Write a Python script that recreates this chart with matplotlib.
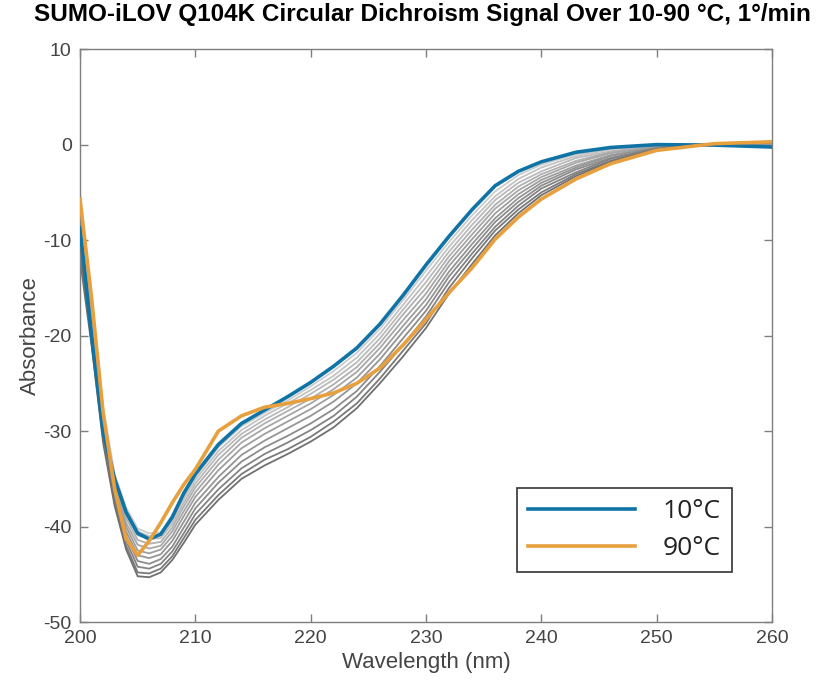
import matplotlib
matplotlib.use("Agg")
import matplotlib.pyplot as plt

wl = [200, 201, 202, 203, 204, 205, 206, 207, 208, 209, 210, 212, 214, 216, 218,
      220, 222, 224, 226, 228, 230, 232, 234, 236, 238, 240, 243, 246, 250, 255, 260]

cd_10 = [-8.7, -20.0, -30.0, -35.0, -38.5, -40.7, -41.3, -40.8, -39.0, -36.5, -34.5,
         -31.4, -29.2, -27.8, -26.4, -24.9, -23.2, -21.3, -18.8, -15.8, -12.6, -9.6,
         -6.8, -4.3, -2.8, -1.8, -0.8, -0.3, 0.0, -0.05, -0.25]

cd_90 = [-5.7, -16.0, -28.0, -36.0, -41.3, -43.0, -41.5, -39.6, -37.5, -35.6, -34.0,
         -30.0, -28.4, -27.5, -27.1, -26.6, -26.0, -25.0, -23.4, -21.0, -18.3, -15.5,
         -12.9, -9.9, -7.6, -5.7, -3.6, -2.0, -0.6, 0.1, 0.3]

# intermediate temperatures, lowest first (light grey -> dark grey)
cd_mid = [
    [-5.0, -16.0, -27.5, -34.5, -38.0, -40.2, -40.7, -40.6, -39.1, -36.8, -34.8, -31.7, -29.5, -28.1, -26.8,
     -25.3, -23.7, -21.8, -19.3, -16.3, -13.2, -10.2, -7.4, -4.9, -3.2, -2.1, -1.0, -0.4, 0.0, 0.0, -0.2],
    [-6.0, -16.5, -28.0, -34.8, -38.3, -40.5, -41.0, -40.9, -39.4, -37.1, -35.1, -32.1, -29.9, -28.4, -27.1,
     -25.7, -24.2, -22.3, -19.8, -16.8, -13.8, -10.7, -7.9, -5.4, -3.6, -2.4, -1.2, -0.5, -0.05, 0.0, -0.15],
    [-7.0, -17.0, -28.3, -35.1, -38.7, -40.9, -41.3, -41.2, -39.7, -37.5, -35.5, -32.5, -30.3, -28.8, -27.5,
     -26.1, -24.6, -22.8, -20.3, -17.3, -14.4, -11.2, -8.4, -5.8, -4.0, -2.8, -1.4, -0.7, -0.1, 0.0, -0.1],
    [-7.5, -17.5, -28.7, -35.4, -39.1, -41.4, -41.8, -41.6, -40.1, -37.9, -35.9, -33.0, -30.7, -29.2, -27.9,
     -26.6, -25.1, -23.3, -20.8, -17.8, -15.0, -11.7, -8.9, -6.3, -4.4, -3.1, -1.7, -0.8, -0.15, 0.0, -0.05],
    [-8.0, -18.0, -29.0, -35.7, -39.6, -41.9, -42.3, -42.0, -40.5, -38.4, -36.4, -33.5, -31.2, -29.7, -28.4,
     -27.1, -25.6, -23.8, -21.3, -18.4, -15.6, -12.2, -9.4, -6.7, -4.8, -3.4, -1.9, -0.9, -0.2, 0.05, 0.0],
    [-8.5, -18.5, -29.3, -36.0, -40.0, -42.5, -42.8, -42.4, -41.0, -38.9, -36.9, -34.1, -31.8, -30.3, -29.0,
     -27.7, -26.2, -24.4, -21.9, -19.0, -16.2, -12.7, -9.9, -7.2, -5.2, -3.7, -2.2, -1.1, -0.25, 0.05, 0.05],
    [-9.5, -19.0, -29.7, -36.3, -40.5, -43.0, -43.3, -42.9, -41.5, -39.5, -37.5, -34.8, -32.5, -31.0, -29.7,
     -28.4, -26.9, -25.0, -22.5, -19.6, -16.8, -13.3, -10.4, -7.7, -5.6, -4.0, -2.4, -1.2, -0.3, 0.05, 0.1],
    [-10.0, -19.5, -30.0, -36.6, -41.0, -43.6, -43.9, -43.4, -42.1, -40.1, -38.1, -35.4, -33.2, -31.7, -30.5,
     -29.2, -27.7, -25.8, -23.2, -20.3, -17.4, -13.8, -10.9, -8.1, -6.0, -4.3, -2.6, -1.4, -0.35, 0.1, 0.15],
    [-10.5, -20.0, -30.4, -37.0, -41.5, -44.2, -44.4, -43.9, -42.6, -40.7, -38.7, -36.1, -33.9, -32.4, -31.2,
     -29.9, -28.4, -26.4, -23.8, -21.0, -18.0, -14.4, -11.4, -8.6, -6.4, -4.6, -2.9, -1.5, -0.4, 0.1, 0.2],
    [-11.0, -20.5, -30.8, -37.4, -42.0, -44.8, -44.9, -44.4, -43.1, -41.2, -39.3, -36.7, -34.5, -33.0, -31.9,
     -30.6, -29.0, -27.1, -24.5, -21.6, -18.7, -15.0, -11.9, -9.0, -6.8, -5.0, -3.1, -1.7, -0.45, 0.1, 0.25],
    [-12.0, -21.0, -31.2, -37.8, -42.4, -45.2, -45.3, -44.8, -43.5, -41.7, -39.8, -37.2, -35.0, -33.6, -32.4,
     -31.1, -29.6, -27.6, -25.0, -22.2, -19.2, -15.6, -12.5, -9.5, -7.2, -5.3, -3.3, -1.8, -0.5, 0.1, 0.25],
]

plt.rcParams['font.family'] = ['Liberation Sans', 'DejaVu Sans']
plt.rcParams['axes.unicode_minus'] = False

fig = plt.figure(figsize=(8.23, 6.92), dpi=100)
ax = fig.add_axes([0.0972, 0.101, 0.8408, 0.828])

n = len(cd_mid)
for i, ys in enumerate(cd_mid):
    shade = 0.80 - 0.36 * i / (n - 1)
    ax.plot(wl, ys, color=(shade, shade, shade), lw=1.3, zorder=2)

ax.plot(wl, cd_10, color='#0f73a6', lw=2.6, label='10°C', zorder=3)
ax.plot(wl, cd_90, color='#e8a03e', lw=2.6, label='90°C', zorder=4)

ax.set_xlim(200, 260)
ax.set_ylim(-50, 10)
ax.set_xticks([200, 210, 220, 230, 240, 250, 260])
ax.set_yticks([-50, -40, -30, -20, -10, 0, 10])

grey = '#444444'
for sp in ax.spines.values():
    sp.set_color('#7f7f7f')
    sp.set_linewidth(1.0)
ax.tick_params(direction='in', top=True, right=True, length=6, width=1.0,
               color='#7f7f7f', labelcolor=grey, labelsize=14, pad=6)

ax.set_xlabel('Wavelength (nm)', fontsize=16, color=grey, labelpad=3)
ax.set_ylabel('Absorbance', fontsize=16, color=grey, labelpad=2)

fig.suptitle('SUMO-iLOV Q104K Circular Dichroism Signal Over 10-90 °C, 1°/min',
             fontsize=17.5, fontweight='bold', x=0.513, y=0.995, va='top')

leg = ax.legend(loc='lower left', bbox_to_anchor=(0.632, 0.087), borderaxespad=0,
                prop={'family': 'Open Sans', 'size': 19}, handlelength=4.05,
                handletextpad=1.05, borderpad=0.42, labelspacing=0.45,
                fancybox=False, framealpha=1)
leg.get_frame().set_edgecolor('#333333')
leg.get_frame().set_linewidth(1.2)
for t in leg.get_texts():
    t.set_color('#222222')

fig.savefig('out.png', dpi=100)
